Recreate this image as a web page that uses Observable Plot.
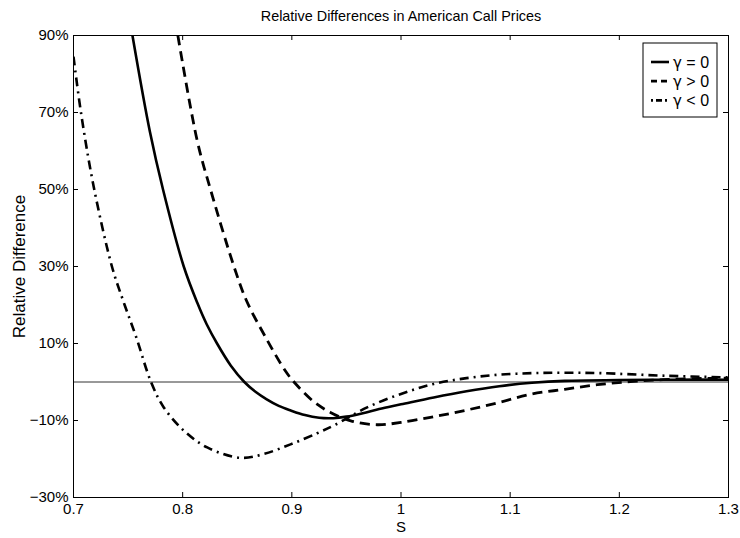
<!DOCTYPE html>
<html>
<head>
<meta charset="utf-8">
<script src="https://cdn.jsdelivr.net/npm/d3@7"></script>
<script src="https://cdn.jsdelivr.net/npm/@observablehq/plot@0.6"></script>
<style>
  body { margin: 0; background: #fff; }
  #chart svg { display: block; }
</style>
</head>
<body>
<div id="chart"></div>
<script>
// Relative difference (%) of American call prices against the spot S, for three signs of gamma.
const sZero = [0.754, 0.770, 0.782, 0.801, 0.8135, 0.822, 0.8315, 0.844, 0.8565, 0.867, 0.877, 0.888, 0.899, 0.912, 0.925, 0.938, 0.950, 0.965, 0.980, 1.000, 1.030, 1.060, 1.090, 1.120, 1.150, 1.200, 1.250, 1.300];
const dZero = [90, 65, 50, 30, 20.5, 15, 10, 4.3, 0, -2.6, -4.5, -6.2, -7.4, -8.6, -9.3, -9.4, -9.0, -8.1, -7.0, -5.8, -4.0, -2.4, -1.1, -0.2, 0.3, 0.5, 0.6, 0.6];

const sPos = [0.7956, 0.8133, 0.8255, 0.847, 0.8585, 0.876, 0.894, 0.902, 0.920, 0.9354, 0.954, 0.978, 1.000, 1.030, 1.060, 1.090, 1.120, 1.150, 1.180, 1.210, 1.240, 1.270, 1.300];
const dPos = [90, 62.7, 50, 30, 21.1, 11.6, 2.9, 0, -5.1, -7.9, -10.1, -11.1, -10.5, -9.0, -7.3, -5.3, -3.1, -1.9, -0.7, 0.1, 0.6, 0.9, 1.0];

const sNeg = [0.700, 0.707, 0.7186, 0.7352, 0.7455, 0.7575, 0.771, 0.7827, 0.801, 0.8225, 0.853, 0.8743, 0.8988, 0.9232, 0.9385, 0.969, 1.000, 1.030, 1.060, 1.090, 1.120, 1.150, 1.183, 1.244, 1.300];
const dNeg = [84.5, 69.7, 50.6, 30, 21.1, 11.6, 0, -6.6, -12.6, -17.0, -19.7, -18.7, -16.2, -13.3, -11.3, -6.6, -3.1, -0.5, 1.0, 1.9, 2.3, 2.4, 2.3, 1.6, 1.2];

const seriesNames = ["γ = 0", "γ > 0", "γ < 0"];
const xTicks = [0.7, 0.8, 0.9, 1, 1.1, 1.2, 1.3];
const yTicks = [-30, -10, 10, 30, 50, 70, 90];

const toRows = (name, s, d) => s.map((v, i) => ({name, s: v, d: d[i]}));
const rowsZero = toRows(seriesNames[0], sZero, dZero);
const rowsPos = toRows(seriesNames[1], sPos, dPos);
const rowsNeg = toRows(seriesNames[2], sNeg, dNeg);

const W = 740, H = 538;
const mL = 73, mR = 12, mT = 35, mB = 41;
const plotW = W - mL - mR, plotH = H - mT - mB;
const font = "'Liberation Sans', Arial, Helvetica, sans-serif";

const styles = [
  {strokeWidth: 2.6, dash: null, legendDash: null},
  {strokeWidth: 2.8, dash: "10,6", legendDash: "6,4"},
  {strokeWidth: 2.6, dash: "9,5,2,5", legendDash: "2,3,6,3,2"}
];

const pct = d => `${d < 0 ? "\u2212" : ""}${Math.abs(d)}%`;

const lineMark = (rows, st) => Plot.line(rows, {
  x: "s", y: "d", curve: "catmull-rom", stroke: "#000",
  strokeWidth: st.strokeWidth, strokeDasharray: st.dash, strokeLinecap: "butt", clip: true
});

const chart = Plot.plot({
  width: W, height: H,
  marginLeft: mL, marginRight: mR, marginTop: mT, marginBottom: mB,
  style: {fontFamily: font, fontSize: "14px", background: "#fff", color: "#000"},
  x: {domain: [0.7, 1.3]},
  y: {domain: [-30, 90]},
  marks: [
    Plot.ruleY([0], {stroke: "#333", strokeWidth: 1}),
    lineMark(rowsZero, styles[0]),
    lineMark(rowsPos, styles[1]),
    lineMark(rowsNeg, styles[2]),
    Plot.frame({stroke: "#000", strokeWidth: 1}),
    // inward ticks on all four sides
    Plot.tickX(xTicks, {x: d => d, insetTop: plotH - 5, stroke: "#000"}),
    Plot.tickX(xTicks, {x: d => d, insetBottom: plotH - 5, stroke: "#000"}),
    Plot.tickY(yTicks, {y: d => d, insetRight: plotW - 5, stroke: "#000"}),
    Plot.tickY(yTicks, {y: d => d, insetLeft: plotW - 5, stroke: "#000"}),
    Plot.axisX(xTicks, {tickSize: 0, tickPadding: 6, tickFormat: d => String(d), label: null, fontSize: 15}),
    Plot.axisY(yTicks, {tickSize: 0, tickPadding: 5, tickFormat: pct, label: null, fontSize: 15}),
    Plot.text(["Relative Differences in American Call Prices"], {frameAnchor: "top", lineAnchor: "middle", dy: -19.5, fontSize: 14.4}),
    Plot.text(["S"], {frameAnchor: "bottom", lineAnchor: "middle", dy: 29.5, fontSize: 15}),
    Plot.text(["Relative Difference"], {frameAnchor: "left", textAnchor: "middle", lineAnchor: "middle", dx: -54, rotate: -90, fontSize: 17})
  ]
});

// legend box in the upper-right corner of the frame
const svg = d3.select(chart);
const lgW = 74, lgH = 74;
const lgX = W - mR - 11 - lgW, lgY = mT + 8;
const lg = svg.append("g").attr("font-family", font).attr("font-size", 16).attr("text-anchor", "start");
lg.append("rect").attr("x", lgX).attr("y", lgY).attr("width", lgW).attr("height", lgH)
  .attr("fill", "#fff").attr("stroke", "#000").attr("stroke-width", 1);
seriesNames.forEach((name, i) => {
  const y = lgY + 19 + i * 19.2;
  lg.append("line").attr("x1", lgX + 8).attr("x2", lgX + 26).attr("y1", y).attr("y2", y)
    .attr("stroke", "#000").attr("stroke-width", styles[i].strokeWidth)
    .attr("stroke-dasharray", styles[i].legendDash);
  const t = lg.append("text").attr("x", lgX + 30).attr("y", y).attr("dy", "0.35em").attr("fill", "#000");
  // the gamma glyph is taken from DejaVu Sans, where it is clearly distinct from "y"
  t.append("tspan").attr("font-family", "'DejaVu Sans', sans-serif").attr("font-size", 15).text(name.slice(0, 1));
  t.append("tspan").text(name.slice(1));
});

document.getElementById("chart").append(chart);
</script>
</body>
</html>
